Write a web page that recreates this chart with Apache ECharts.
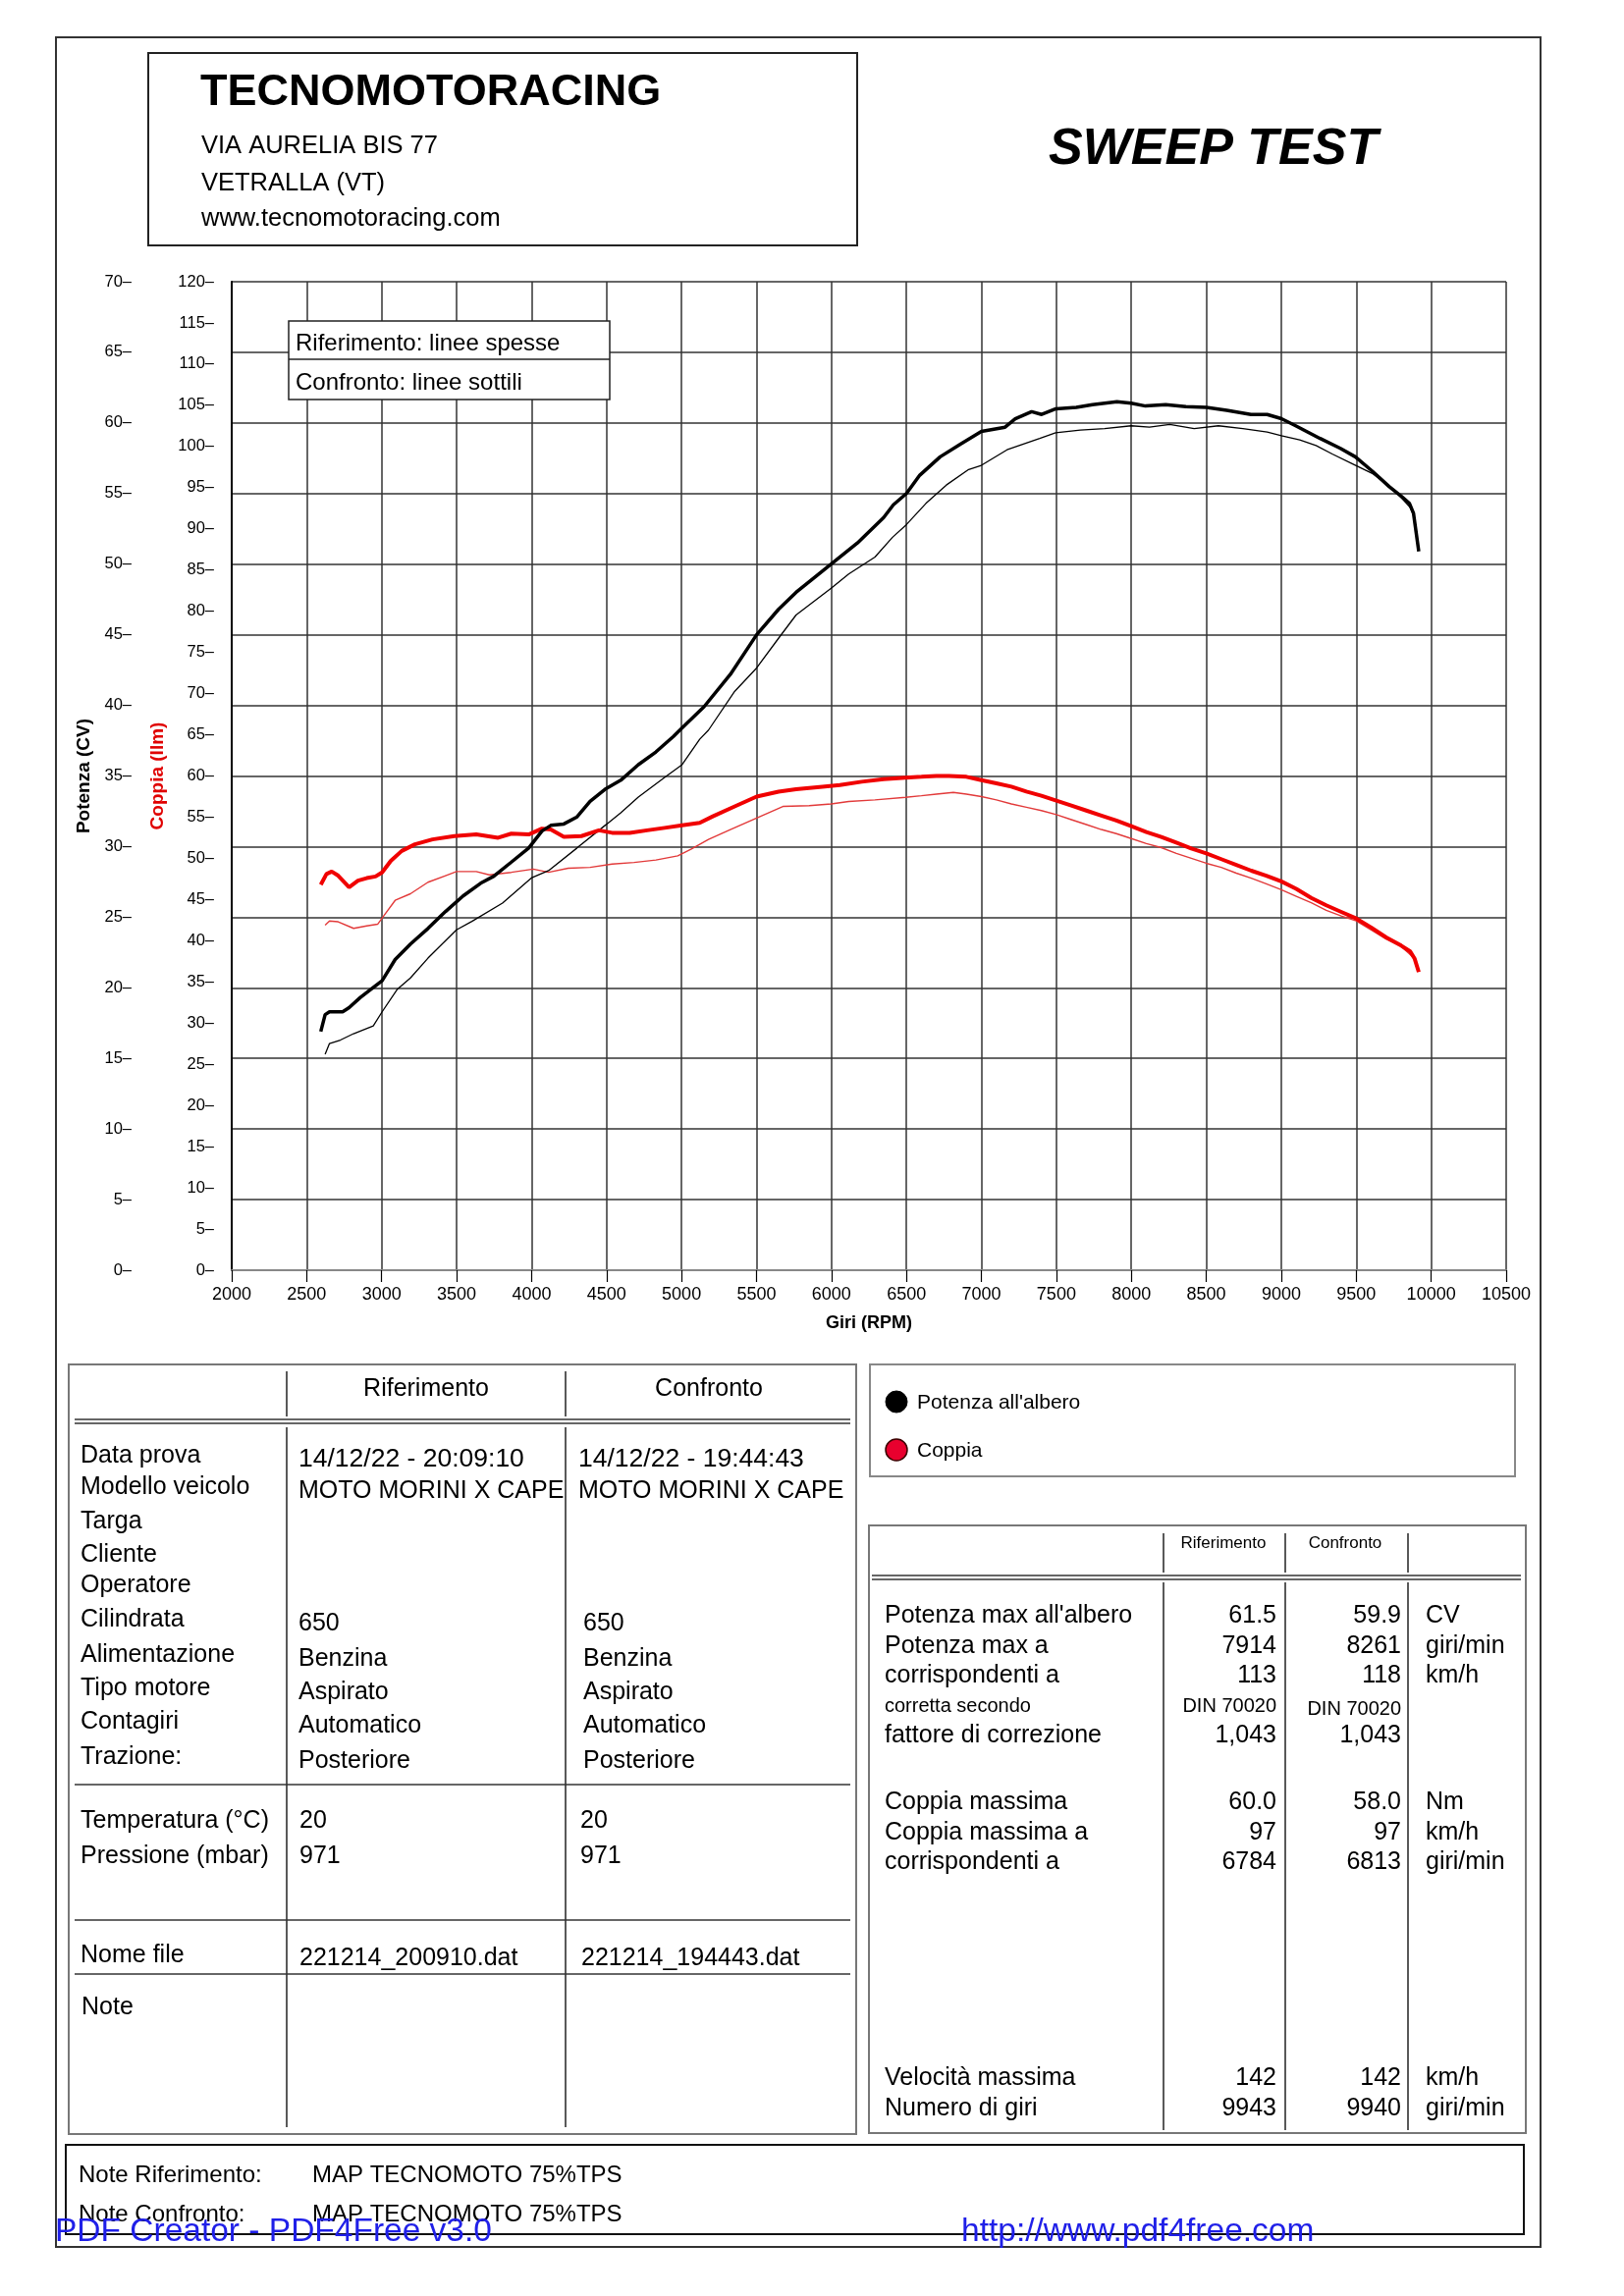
<!DOCTYPE html>
<html><head><meta charset="utf-8">
<script src="https://cdn.jsdelivr.net/npm/echarts@6/dist/echarts.min.js"></script>
<style>html,body{margin:0;padding:0;background:#fff}#c{width:1654px;height:2339px}</style>
</head><body><div id="c"></div>
<script>
// ---------------- DATA ----------------
const potRifRpm = [2594,2623,2652,2740,2783,2856,2930,3003,3090,3192,3309,3426,3543,3660,3748,3865,3981,4069,4128,4215,4303,4390,4496,4595,4712,4829,4946,5004,5150,5326,5501,5647,5764,5998,6173,6348,6413,6500,6589,6725,6860,7000,7158,7226,7335,7402,7497,7633,7741,7904,7999,8094,8229,8364,8500,8636,8798,8906,9001,9096,9259,9394,9494,9611,9719,9801,9855,9882,9917];
const potRifVal = [16.9,18.1,18.3,18.3,18.6,19.3,19.9,20.5,22.0,23.1,24.2,25.4,26.5,27.4,27.9,28.9,29.9,31.1,31.5,31.6,32.1,33.2,34.1,34.7,35.8,36.7,37.8,38.4,39.9,42.2,45.0,46.8,48.0,50.0,51.5,53.3,54.2,55.0,56.3,57.6,58.5,59.4,59.7,60.3,60.8,60.6,61.0,61.1,61.3,61.5,61.4,61.2,61.3,61.15,61.1,60.9,60.6,60.6,60.3,59.8,58.9,58.2,57.6,56.55,55.5,54.8,54.3,53.6,50.9];

const potConfRpm = [2623,2652,2725,2813,2944,3003,3105,3192,3309,3499,3602,3806,4002,4113,4303,4496,4595,4712,4887,5004,5121,5180,5355,5501,5647,5764,5998,6115,6290,6407,6500,6630,6766,6915,7000,7171,7280,7389,7495,7660,7822,7999,8121,8256,8419,8581,8744,8906,9001,9123,9232,9340,9476,9611,9747,9801,9860,9880];
const potConfVal = [15.3,16.05,16.3,16.75,17.3,18.3,19.9,20.7,22.1,24.1,24.7,26.0,27.8,28.3,29.9,31.55,32.4,33.5,34.9,35.8,37.6,38.25,41.0,42.65,44.75,46.4,48.3,49.3,50.5,51.9,52.8,54.3,55.6,56.7,57.0,58.1,58.5,58.9,59.3,59.5,59.6,59.8,59.7,59.9,59.6,59.8,59.6,59.35,59.1,58.8,58.4,57.8,57.1,56.4,55.3,54.7,54.0,53.5];

const copRifRpm = [2594,2632,2667,2710,2783,2842,2900,2959,3003,3061,3134,3222,3339,3485,3631,3777,3865,3981,4069,4128,4215,4332,4449,4537,4654,4770,4887,5004,5121,5209,5355,5501,5647,5764,5939,6056,6202,6348,6494,6600,6700,6784,6900,7000,7100,7200,7300,7400,7500,7600,7700,7800,7900,8000,8100,8200,8300,8400,8500,8600,8700,8800,8900,9000,9100,9200,9300,9400,9500,9600,9700,9800,9860,9890,9917];
const copRifVal = [46.8,48.1,48.4,47.9,46.5,47.3,47.6,47.8,48.3,49.7,50.9,51.7,52.3,52.7,52.9,52.5,53.0,52.9,53.6,53.5,52.6,52.7,53.4,53.1,53.1,53.4,53.7,54.0,54.3,55.1,56.3,57.5,58.1,58.4,58.7,58.9,59.3,59.6,59.8,59.9,60.0,60.0,59.9,59.5,59.1,58.7,58.1,57.6,57.0,56.4,55.8,55.2,54.6,53.9,53.2,52.6,51.9,51.2,50.6,49.9,49.2,48.5,47.9,47.2,46.3,45.2,44.3,43.5,42.7,41.6,40.4,39.4,38.7,37.8,36.2];

const copConfRpm = [2623,2652,2710,2813,2900,2973,3017,3090,3192,3309,3426,3499,3631,3718,3865,4011,4113,4244,4390,4537,4683,4829,4975,5063,5180,5326,5501,5676,5851,5998,6115,6290,6494,6600,6700,6813,6900,7000,7100,7200,7300,7400,7500,7600,7700,7800,7900,8000,8100,8200,8300,8400,8500,8600,8700,8800,8900,9000,9100,9200,9300,9400,9500,9600,9700,9800,9880];
const copConfVal = [41.9,42.4,42.3,41.5,41.8,42.0,43.1,44.9,45.7,47.1,47.9,48.4,48.4,48.0,48.3,48.7,48.3,48.8,48.9,49.3,49.5,49.8,50.3,51.1,52.3,53.5,54.9,56.3,56.4,56.6,56.9,57.1,57.4,57.6,57.8,58.0,57.8,57.5,57.1,56.6,56.2,55.8,55.3,54.7,54.1,53.5,53.0,52.4,51.8,51.3,50.6,50.0,49.4,48.9,48.2,47.6,46.9,46.2,45.4,44.6,43.7,43.0,42.4,41.3,40.2,39.3,38.0];

// table texts
const headerLines = ['VIA AURELIA BIS 77','VETRALLA (VT)','www.tecnomotoracing.com'];
const colHeads = ['Riferimento','Confronto'];
const infoLabels = ['Data prova','Modello veicolo','Targa','Cliente','Operatore','Cilindrata','Alimentazione','Tipo motore','Contagiri','Trazione:'];
const infoRif = ['14/12/22 - 20:09:10','MOTO MORINI X CAPE','','','','650','Benzina','Aspirato','Automatico','Posteriore'];
const infoConf = ['14/12/22 - 19:44:43','MOTO MORINI X CAPE','','','','650','Benzina','Aspirato','Automatico','Posteriore'];
const envLabels = ['Temperatura (°C)','Pressione (mbar)'];
const envRif = ['20','971'];
const envConf = ['20','971'];
const fileRif = '221214_200910.dat';
const fileConf = '221214_194443.dat';
const resLabels = ["Potenza max all'albero",'Potenza max a','corrispondenti a','corretta secondo','fattore di correzione','Coppia massima','Coppia massima a','corrispondenti a','Velocità massima','Numero di giri'];
const resRif = ['61.5','7914','113','DIN 70020','1,043','60.0','97','6784','142','9943'];
const resConf = ['59.9','8261','118','DIN 70020','1,043','58.0','97','6813','142','9940'];
const resUnits = ['CV','giri/min','km/h','','','Nm','km/h','giri/min','km/h','giri/min'];
const noteRif = 'MAP TECNOMOTO 75%TPS';
const noteConf = 'MAP TECNOMOTO 75%TPS';

// ---------------- LAYOUT ----------------
const F = '"Liberation Sans", Arial, Helvetica, sans-serif';
const infoY = [1489,1521,1556,1590,1621,1656,1692,1726,1760,1796];
const envY = [1861,1897];
const resY = [1652,1683,1713,1743,1774,1842,1873,1903,2123,2154];

function zip(a,b){return a.map((v,i)=>[v,b[i]]);}
function T(x, base, s, fs, o){ o=o||{}; return {type:'text', x:x, y:base-0.25*fs, z:100, style:{text:s, fontSize:fs, fontFamily:F, fontWeight:o.w||'normal', fontStyle:o.i||'normal', fill:o.c||'#000', align:o.a||'left', verticalAlign:'middle'}}; }
function R(x1,y1,x2,y2,stroke,lw,fill){ return {type:'rect', z:90, shape:{x:x1,y:y1,width:x2-x1,height:y2-y1}, style:{fill:fill||'none', stroke:stroke, lineWidth:lw}}; }
function L(x1,y1,x2,y2,stroke,lw){ return {type:'line', z:95, shape:{x1:x1,y1:y1,x2:x2,y2:y2}, style:{stroke:stroke, lineWidth:lw}}; }

const g = [];
// page border
g.push(R(57,38,1569,2289,'#333',2));
// header
g.push(R(151,54,873,250,'#222',2));
g.push(T(204,106,'TECNOMOTORACING',45,{w:'bold'}));
[155,193,229].forEach((y,i)=>g.push(T(205,y,headerLines[i],25.5)));
g.push(T(1068,166,'SWEEP TEST',52,{w:'bold',i:'italic'}));
// chart legend box
g.push(R(294,327,621,407,'#222',1.5,'#fff'));
g.push(L(294,366,621,366,'#222',1.5));
g.push(T(301,356,'Riferimento: linee spesse',24));
g.push(T(301,396,'Confronto: linee sottili',24));

// table 1
g.push(R(70,1390,872,2174,'#777',2));
g.push(T(434,1421,colHeads[0],25,{a:'center'}));
g.push(T(722,1421,colHeads[1],25,{a:'center'}));
g.push(L(76,1446,866,1446,'#333',1.5));
g.push(L(76,1450,866,1450,'#333',1.5));
[292,576].forEach(x=>{ g.push(L(x,1397,x,1443,'#222',1.5)); g.push(L(x,1454,x,2167,'#222',1.5)); });
infoLabels.forEach((s,i)=>{ g.push(T(82,infoY[i],s,25)); if(infoRif[i]) g.push(T(304,infoY[i]+4,infoRif[i],i===0?26.5:25)); if(infoConf[i]) g.push(T(i<2?589:594,infoY[i]+4,infoConf[i],i===0?26.5:25)); });
g.push(L(76,1818,866,1818,'#333',1.5));
envLabels.forEach((s,i)=>{ g.push(T(82,envY[i],s,25)); g.push(T(305,envY[i],envRif[i],25)); g.push(T(591,envY[i],envConf[i],25)); });
g.push(L(76,1956,866,1956,'#333',1.5));
g.push(T(82,1998,'Nome file',25));
g.push(T(305,2001,fileRif,25));
g.push(T(592,2001,fileConf,25));
g.push(L(76,2011,866,2011,'#333',1.5));
g.push(T(83,2051,'Note',25));

// legend box
g.push(R(886,1390,1543,1504,'#888',2));
g.push({type:'circle', z:100, shape:{cx:913,cy:1428,r:11}, style:{fill:'#000',stroke:'#000',lineWidth:1}});
g.push({type:'circle', z:100, shape:{cx:913,cy:1477,r:11}, style:{fill:'#e8002e',stroke:'#3a0000',lineWidth:1.5}});
g.push(T(934,1434,"Potenza all'albero",21));
g.push(T(934,1483,'Coppia',21));

// table 2
g.push(R(885,1554,1554,2173,'#777',2));
g.push(T(1246,1577,colHeads[0],17,{a:'center'}));
g.push(T(1370,1577,colHeads[1],17,{a:'center'}));
g.push(L(888,1605,1549,1605,'#333',1.5));
g.push(L(888,1609,1549,1609,'#333',1.5));
[1185,1309,1434].forEach(x=>{ g.push(L(x,1562,x,1602,'#222',1.5)); g.push(L(x,1612,x,2170,'#222',1.5)); });
resLabels.forEach((s,i)=>{
  const fs = i===3?20:25;
  g.push(T(901,resY[i],s,fs));
  g.push(T(1300,resY[i],resRif[i],fs,{a:'right'}));
  g.push(T(1427,resY[i]+(i===3?3:0),resConf[i],fs,{a:'right'}));
  if(resUnits[i]) g.push(T(1452,resY[i],resUnits[i],25));
});

// notes box
g.push(R(67,2185,1552,2276,'#111',2));
g.push(T(80,2222,'Note Riferimento:',24));
g.push(T(318,2222,noteRif,24));
g.push(T(80,2262,'Note Confronto:',24));
g.push(T(318,2262,noteConf,24));
// watermark
g.push(T(56,2282,'PDF Creator - PDF4Free v3.0',33.5,{c:'#1f1fe8'}));
g.push(T(979,2282,'http://www.pdf4free.com',33.5,{c:'#1f1fe8'}));

const chart = echarts.init(document.getElementById('c'), null, {renderer:'canvas'});
const axName = {fontWeight:'bold', fontSize:19, fontFamily:F, color:'#000'};
chart.setOption({
  animation:false,
  backgroundColor:'#fff',
  grid:{left:236, top:287, width:1298, height:1007, show:false},
  xAxis:{type:'value', min:2000, max:10500, interval:500,
    axisLine:{show:true, lineStyle:{color:'#888', width:2}},
    axisTick:{show:true, length:12, lineStyle:{color:'#000', width:1.2}},
    axisLabel:{color:'#000', fontSize:18, fontFamily:F, margin:16, showMinLabel:true, showMaxLabel:true, formatter:v=>String(v)},
    splitLine:{show:true, lineStyle:{color:'#333', width:1.5}},
    name:'Giri (RPM)', nameLocation:'middle', nameGap:45, nameTextStyle:Object.assign({}, axName, {fontSize:18})},
  yAxis:[
    {type:'value', min:0, max:70, interval:5, position:'left', offset:84,
      axisLine:{show:false}, axisTick:{show:false},
      axisLabel:{formatter:v=>v+'–', fontSize:16.5, color:'#000', fontFamily:F, margin:18},
      splitLine:{show:true, lineStyle:{color:'#333', width:1.5}},
      name:'Potenza (CV)', nameLocation:'middle', nameRotate:90, nameGap:56, nameTextStyle:axName},
    {type:'value', min:0, max:120, interval:5, position:'left', offset:0,
      axisLine:{show:true, lineStyle:{color:'#000', width:2}}, axisTick:{show:false},
      axisLabel:{formatter:v=>v+'–', fontSize:16.5, color:'#000', fontFamily:F, margin:18},
      splitLine:{show:false},
      name:'Coppia (Ilm)', nameLocation:'middle', nameRotate:90, nameGap:66, nameTextStyle:Object.assign({}, axName, {color:'#e00000'})}
  ],
  series:[
    {name:'Coppia Confronto', type:'line', yAxisIndex:1, data:zip(copConfRpm,copConfVal), symbol:'none', lineStyle:{color:'#e23a3a', width:1.4}, z:3},
    {name:'Potenza Confronto', type:'line', yAxisIndex:0, data:zip(potConfRpm,potConfVal), symbol:'none', lineStyle:{color:'#000', width:1.3}, z:3},
    {name:'Coppia Riferimento', type:'line', yAxisIndex:1, data:zip(copRifRpm,copRifVal), symbol:'none', lineStyle:{color:'#f00000', width:4}, z:4},
    {name:'Potenza Riferimento', type:'line', yAxisIndex:0, data:zip(potRifRpm,potRifVal), symbol:'none', lineStyle:{color:'#000', width:3.5}, z:5}
  ],
  graphic:{elements:g}
});
</script>
</body></html>
